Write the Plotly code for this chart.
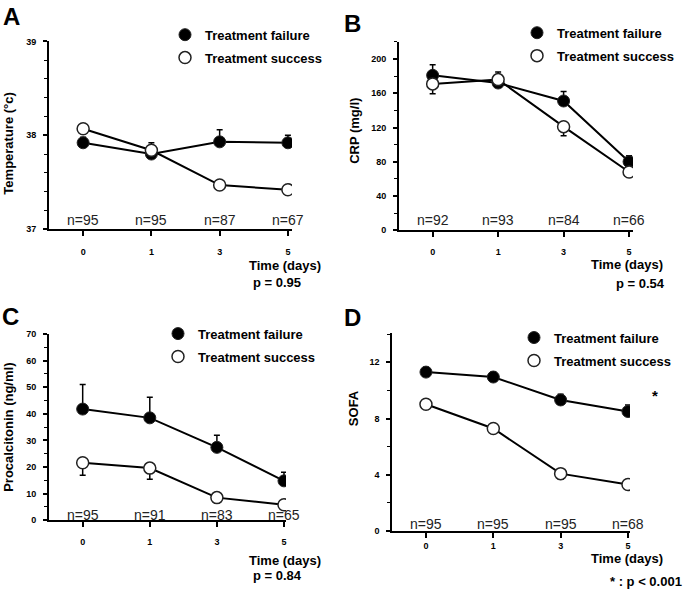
import plotly.graph_objects as go

W, H = 685, 597
FONT = "Liberation Sans"

days = ["0", "1", "3", "5"]

temp_fail = [37.92, 37.80, 37.93, 37.92]
temp_fail_err = [0.06, 0.12, 0.13, 0.08]
temp_succ = [38.07, 37.84, 37.47, 37.42]
temp_succ_err = [0.04, 0.05, 0.04, 0.04]
temp_n = ["n=95", "n=95", "n=87", "n=67"]

crp_fail = [181, 172, 151, 80]
crp_fail_err = [12.5, 13, 11, 7]
crp_succ = [171, 176, 121, 68]
crp_succ_err = [11.5, 5, 10.5, 4]
crp_n = ["n=92", "n=93", "n=84", "n=66"]

pct_fail = [41.8, 38.5, 27.4, 14.8]
pct_fail_err = [9.2, 7.7, 4.6, 3.2]
pct_succ = [21.6, 19.6, 8.5, 5.8]
pct_succ_err = [4.7, 4.2, 1.5, 1.0]
pct_n = ["n=95", "n=91", "n=83", "n=65"]

sofa_fail = [11.3, 10.95, 9.32, 8.5]
sofa_fail_err = [0.35, 0.35, 0.4, 0.47]
sofa_succ = [9.01, 7.29, 4.08, 3.31]
sofa_succ_err = [0.2, 0.3, 0.4, 0.2]
sofa_n = ["n=95", "n=95", "n=95", "n=68"]

panels = [
    dict(key="", letter="A", ytitle="Temperature (°c)", fail=temp_fail, ferr=temp_fail_err,
         succ=temp_succ, serr=temp_succ_err, n=temp_n, yrange=[37, 39], dtick=1, minor=0.2,
         xdom=[49, 292], ybot=228, ytop=37, xrange=[-0.5, 3.06], nshift=9, tstand=8,
         letter_pos=(11, 12), ytitle_pos=(9, 141), leg=(165, 15),
         time_pos=(285, 265), p_text="p = 0.95", p_pos=(277, 282), p_anchor="center"),
    dict(key="2", letter="B", ytitle="CRP (mg/l)", fail=crp_fail, ferr=crp_fail_err,
         succ=crp_succ, serr=crp_succ_err, n=crp_n, yrange=[0, 220], dtick=40, minor=20,
         xdom=[399, 633], ybot=229, ytop=37.6, xrange=[-0.514, 3.06], nshift=10, tstand=7,
         letter_pos=(352, 19), ytitle_pos=(355, 128), leg=(517, 13),
         time_pos=(627, 264), p_text="p = 0.54", p_pos=(640, 283), p_anchor="center"),
    dict(key="3", letter="C", ytitle="Procalcitonin (ng/ml)", fail=pct_fail, ferr=pct_fail_err,
         succ=pct_succ, serr=pct_succ_err, n=pct_n, yrange=[0, 70], dtick=10, minor=5,
         xdom=[49, 286], ybot=524, ytop=334.7, xrange=[-0.502, 3.03], nshift=5, tstand=7,
         letter_pos=(10, 317), ytitle_pos=(9, 430), leg=(158, 319),
         time_pos=(285, 565), p_text="p = 0.84", p_pos=(277, 580), p_anchor="center"),
    dict(key="4", letter="D", ytitle="SOFA", fail=sofa_fail, ferr=sofa_fail_err,
         succ=sofa_succ, serr=sofa_succ_err, n=sofa_n, yrange=[0, 14.1], dtick=4, minor=2,
         xdom=[392.3, 630], ybot=535, ytop=333.3, xrange=[-0.5, 3.03], nshift=7, tstand=0,
         letter_pos=(353, 318), ytitle_pos=(353, 410), leg=(514, 323),
         time_pos=(627, 563), p_text="* : p < 0.001", p_pos=(684, 586), p_anchor="right"),
]

fig = go.Figure()
annotations = []
layout = {}

for i, p in enumerate(panels):
    k = p["key"]
    xa = "x" + k
    ya = "y" + k
    leg = "legend" + k
    fig.add_trace(go.Scatter(
        x=days, y=p["fail"], xaxis=xa, yaxis=ya, mode="lines+markers", showlegend=False,
        line=dict(color="black", width=2),
        marker=dict(size=12, color="black", line=dict(color="#222", width=1)),
        error_y=dict(type="data", symmetric=False, array=p["ferr"],
                     arrayminus=[0] * len(p["ferr"]), color="black", thickness=1.5, width=3),
    ))
    fig.add_trace(go.Scatter(
        x=days, y=p["succ"], xaxis=xa, yaxis=ya, mode="lines+markers", showlegend=False,
        line=dict(color="black", width=2),
        marker=dict(size=12, color="white", line=dict(color="#222", width=1.5)),
        error_y=dict(type="data", symmetric=False, array=[0] * len(p["serr"]),
                     arrayminus=p["serr"], color="black", thickness=1.5, width=3),
    ))
    fig.add_trace(go.Scatter(
        x=[None], y=[None], xaxis=xa, yaxis=ya, mode="markers", name="Treatment failure",
        legend=leg, legendgroup="f" + str(i),
        marker=dict(size=12, color="black", line=dict(color="#222", width=1)),
    ))
    fig.add_trace(go.Scatter(
        x=[None], y=[None], xaxis=xa, yaxis=ya, mode="markers", name="Treatment success",
        legend=leg, legendgroup="s" + str(i),
        marker=dict(size=12, color="white", line=dict(color="#222", width=1.5)),
    ))

    layout["xaxis" + k] = dict(
        domain=[p["xdom"][0] / W, p["xdom"][1] / W], anchor=ya, type="category",
        range=p["xrange"], showgrid=False, zeroline=False, showline=True,
        linecolor="black", linewidth=2, ticks="outside", ticklen=5, tickwidth=1.5,
        tickcolor="black", ticklabelstandoff=p["tstand"],
        tickfont=dict(family=FONT, size=9, color="black", weight="bold"),
    )
    layout["yaxis" + k] = dict(
        domain=[1 - p["ybot"] / H, 1 - p["ytop"] / H], anchor=xa,
        range=p["yrange"], dtick=p["dtick"], tick0=0, showgrid=False, zeroline=False,
        showline=True, linecolor="black", linewidth=2, ticks="outside", ticklen=4,
        tickwidth=1.5, tickcolor="black", ticklabelstandoff=5,
        tickfont=dict(family=FONT, size=9, color="black", weight="bold"),
        minor=dict(dtick=p["minor"], ticks="outside", ticklen=3, tickwidth=1,
                   tickcolor="black", showgrid=False),
    )
    layout[leg] = dict(
        x=p["leg"][0] / W, y=1 - p["leg"][1] / H, xanchor="left", yanchor="top",
        bgcolor="rgba(0,0,0,0)", tracegroupgap=3,
        font=dict(family=FONT, size=13, color="black", weight="bold"),
    )

    for j, nt in enumerate(p["n"]):
        annotations.append(dict(
            x=j, y=0, xref=xa, yref=ya + " domain", text=nt, showarrow=False,
            yanchor="middle", yshift=p["nshift"],
            font=dict(family=FONT, size=14, color="#222"),
        ))
    annotations.append(dict(
        x=p["letter_pos"][0] / W, y=1 - p["letter_pos"][1] / H, xref="paper", yref="paper",
        text=p["letter"], showarrow=False, xanchor="center", yanchor="middle",
        font=dict(family=FONT, size=24, color="black", weight="bold"),
    ))
    annotations.append(dict(
        x=p["ytitle_pos"][0] / W, y=1 - p["ytitle_pos"][1] / H, xref="paper", yref="paper",
        text=p["ytitle"], showarrow=False, textangle=-90, xanchor="center", yanchor="middle",
        font=dict(family=FONT, size=13, color="black", weight="bold"),
    ))
    annotations.append(dict(
        x=p["time_pos"][0] / W, y=1 - p["time_pos"][1] / H, xref="paper", yref="paper",
        text="Time (days)", showarrow=False, xanchor="center", yanchor="middle",
        font=dict(family=FONT, size=13, color="black", weight="bold"),
    ))
    annotations.append(dict(
        x=p["p_pos"][0] / W, y=1 - p["p_pos"][1] / H, xref="paper", yref="paper",
        text=p["p_text"], showarrow=False, xanchor=p["p_anchor"], yanchor="middle",
        font=dict(family=FONT, size=13, color="black", weight="bold"),
    ))

annotations.append(dict(
    x=655 / W, y=1 - 397 / H, xref="paper", yref="paper", text="*", showarrow=False,
    xanchor="center", yanchor="middle",
    font=dict(family=FONT, size=15, color="black", weight="bold"),
))

fig.update_layout(
    width=W, height=H, margin=dict(l=0, r=0, t=0, b=0),
    paper_bgcolor="white", plot_bgcolor="white",
    annotations=annotations, **layout,
)

fig.write_html("out.html", config={"displayModeBar": False},
               post_script="document.body.style.margin='0';document.body.style.padding='0';")
